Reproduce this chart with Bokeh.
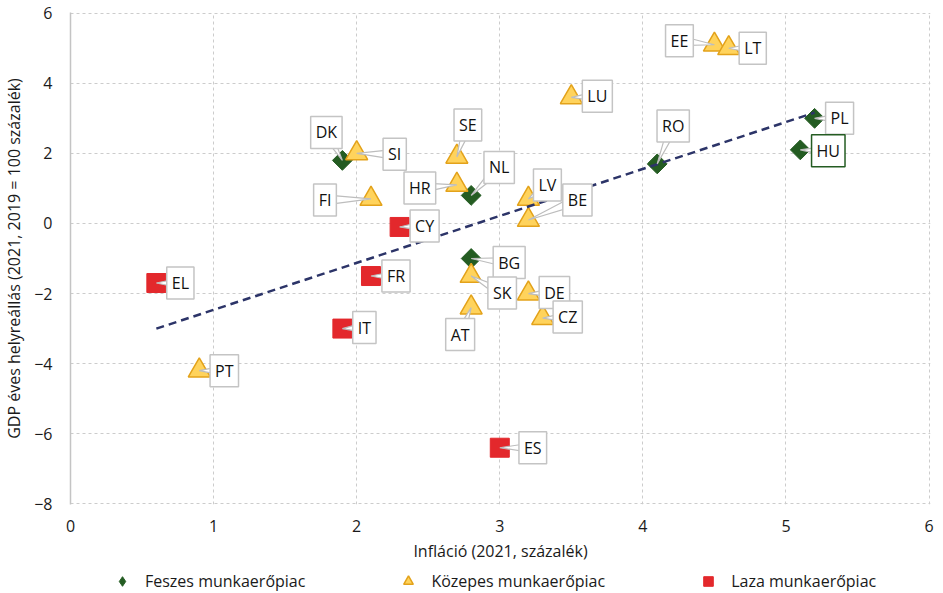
import math
import numpy as np
from bokeh.plotting import figure
from bokeh.layouts import column
from bokeh.models import Range1d, FixedTicker, Label, Legend, LegendItem
from bokeh.embed import file_html
from bokeh.resources import INLINE

# ---------------- data ----------------
tight_codes = ["DK", "NL", "BG", "RO", "PL", "HU"]
tight_infl = [1.9, 2.8, 2.8, 4.1, 5.2, 5.1]
tight_gdp = [1.8, 0.8, -1.0, 1.7, 3.0, 2.1]

medium_codes = ["SI", "FI", "SE", "HR", "LU", "EE", "LT", "LV", "BE", "SK", "AT", "DE", "CZ", "PT"]
medium_infl = [2.0, 2.1, 2.7, 2.7, 3.5, 4.5, 4.6, 3.2, 3.2, 2.8, 2.8, 3.2, 3.3, 0.9]
medium_gdp = [2.0, 0.7, 1.9, 1.1, 3.6, 5.1, 5.0, 0.7, 0.1, -1.5, -2.4, -2.0, -2.7, -4.2]

loose_codes = ["EL", "CY", "FR", "IT", "ES"]
loose_infl = [0.6, 2.3, 2.1, 1.9, 3.0]
loose_gdp = [-1.7, -0.1, -1.5, -3.0, -6.4]

series_names = ["Feszes munkaerőpiac", "Közepes munkaerőpiac", "Laza munkaerőpiac"]
x_ticks = [0, 1, 2, 3, 4, 5, 6]
y_ticks = [-8, -6, -4, -2, 0, 2, 4, 6]
y_tick_labels = ["−8", "−6", "−4", "−2", "0", "2", "4", "6"]
x_title = "Infláció (2021, százalék)"
y_title = "GDP éves helyreállás (2021, 2019 = 100 százalék)"

# ---------------- label placement (screen px, +y = down) ----------------
label_offsets = {
    "DK": (-16, -28), "SI": (38, 1), "SE": (11, -32), "HR": (-37, 3), "NL": (28, -28),
    "FI": (-46, 1), "CY": (25, -1), "FR": (25, 0), "EL": (24, 0), "IT": (22, -1),
    "PT": (25, 0), "AT": (-11, 27), "BG": (38, 4), "SK": (31, 17), "DE": (26, -1),
    "CZ": (25, -1), "LV": (19, -14), "BE": (49, -20), "LU": (26, -1), "EE": (-35, -4),
    "LT": (24, 0), "RO": (16, -38), "PL": (25, 0), "HU": (28, 1), "ES": (33, 0),
}

FONT = "Open Sans"
GREEN = "#245c22"
YELLOW = "#ffd35c"
YELLOW_EDGE = "#e3a21a"
RED = "#e3282c"
NAVY = "#2c3468"
TXT = "#1a1a1a"

FW, FH = 860, 492
X0, X1 = 0, 6.01
Y0, Y1 = -8.02, 6.02
sx = FW / (X1 - X0)
sy = FH / (Y1 - Y0)

p = figure(frame_width=FW, frame_height=FH, x_range=Range1d(X0, X1), y_range=Range1d(Y0, Y1),
           output_backend="svg", toolbar_location=None,
           min_border_left=61, min_border_right=6, min_border_top=12, min_border_bottom=0)
p.outline_line_color = None
p.background_fill_color = "white"

for ax in (p.xaxis[0], p.yaxis[0]):
    ax.major_tick_line_color = None
    ax.minor_tick_line_color = None
    ax.major_label_text_font = FONT
    ax.major_label_text_font_size = "16px"
    ax.major_label_text_color = TXT
    ax.axis_label_text_font = FONT
    ax.axis_label_text_font_size = "16px"
    ax.axis_label_text_font_style = "normal"
    ax.axis_label_text_color = TXT

p.xaxis.ticker = FixedTicker(ticks=x_ticks)
p.yaxis.ticker = FixedTicker(ticks=y_ticks)
p.yaxis.major_label_overrides = {t: l for t, l in zip(y_ticks, y_tick_labels)}
p.xaxis.axis_line_color = None
p.yaxis.axis_line_color = "#c4c4c4"
p.yaxis.axis_line_width = 1.5
p.xaxis.major_label_standoff = 9
p.yaxis.major_label_standoff = 12
p.xaxis.axis_label = x_title
p.yaxis.axis_label = y_title
p.xaxis.axis_label_standoff = 5
p.yaxis.axis_label_standoff = 6

for g in (p.xgrid[0], p.ygrid[0]):
    g.grid_line_color = "#cccccc"
    g.grid_line_dash = "3 3"
    g.grid_line_width = 1

# markers
r_tight = p.scatter(tight_infl, tight_gdp, marker="square", size=14, angle=math.pi / 4,
                    fill_color=GREEN, line_color=GREEN)
r_med = p.scatter(medium_infl, medium_gdp, marker="triangle", size=22,
                  fill_color=YELLOW, line_color=YELLOW_EDGE, line_width=1.5)
r_loose = p.scatter(loose_infl, loose_gdp, marker="square", size=19,
                    fill_color=RED, line_color=RED)

# trend line (OLS over all countries)
all_x = np.array(tight_infl + medium_infl + loose_infl)
all_y = np.array(tight_gdp + medium_gdp + loose_gdp)
slope, icpt = np.polyfit(all_x, all_y, 1)
tx = np.array([all_x.min(), all_x.max()])
p.line(tx, slope * tx + icpt, line_color=NAVY, line_width=2.5, line_dash="8 5")

# callouts
codes = tight_codes + medium_codes + loose_codes
xs = list(all_x)
ys = list(all_y)
wx, wy = [], []
for c, x, y in zip(codes, xs, ys):
    dx, dyd = label_offsets[c]
    dy = -dyd
    L = math.hypot(dx, dy)
    nx, ny = -dy / L, dx / L
    w = 5
    wx.append([x, x + (dx + nx * w) / sx, x + (dx - nx * w) / sx])
    wy.append([y, y + (dy + ny * w) / sy, y + (dy - ny * w) / sy])
p.patches(wx, wy, fill_color="white", line_color="#bdbdbd", line_width=1.2)

for c, x, y in zip(codes, xs, ys):
    dx, dyd = label_offsets[c]
    lab = Label(x=x, y=y, x_offset=dx, y_offset=-dyd, text=c,
                text_align="center", text_baseline="middle",
                text_font=FONT, text_font_size="16px", text_color="#111111",
                background_fill_color="white",
                border_line_color=(GREEN if c == "HU" else "#c4c4c4"),
                border_line_width=1.5, padding=5)
    p.add_layout(lab)

# ---------------- legend strip ----------------
lg = figure(width=900, height=30, x_range=Range1d(0, 1), y_range=Range1d(0, 1),
            output_backend="svg", toolbar_location=None,
            x_axis_location=None, y_axis_location=None,
            min_border_left=0, min_border_right=0, min_border_top=0, min_border_bottom=0)
lg.outline_line_color = None
lg.xgrid.visible = False
lg.ygrid.visible = False
nan = [float("nan")]
k1 = lg.scatter(nan, nan, marker="diamond", size=10, fill_color=GREEN, line_color=GREEN)
k2 = lg.scatter(nan, nan, marker="triangle", size=10, fill_color=YELLOW, line_color=YELLOW_EDGE, line_width=1.5)
k3 = lg.scatter(nan, nan, marker="square", size=10, fill_color=RED, line_color=RED)
legend = Legend(items=[LegendItem(label=series_names[0], renderers=[k1]),
                       LegendItem(label=series_names[1], renderers=[k2]),
                       LegendItem(label=series_names[2], renderers=[k3])],
                orientation="horizontal", location=(39, 1), spacing=90,
                glyph_width=26, glyph_height=24, label_standoff=10,
                label_text_font=FONT, label_text_font_size="16px", label_text_color=TXT,
                padding=0, margin=0, border_line_color=None, background_fill_alpha=0)
lg.add_layout(legend, "center")

layout = column(p, lg, spacing=0)
open("out.html", "w").write(file_html(layout, INLINE))
